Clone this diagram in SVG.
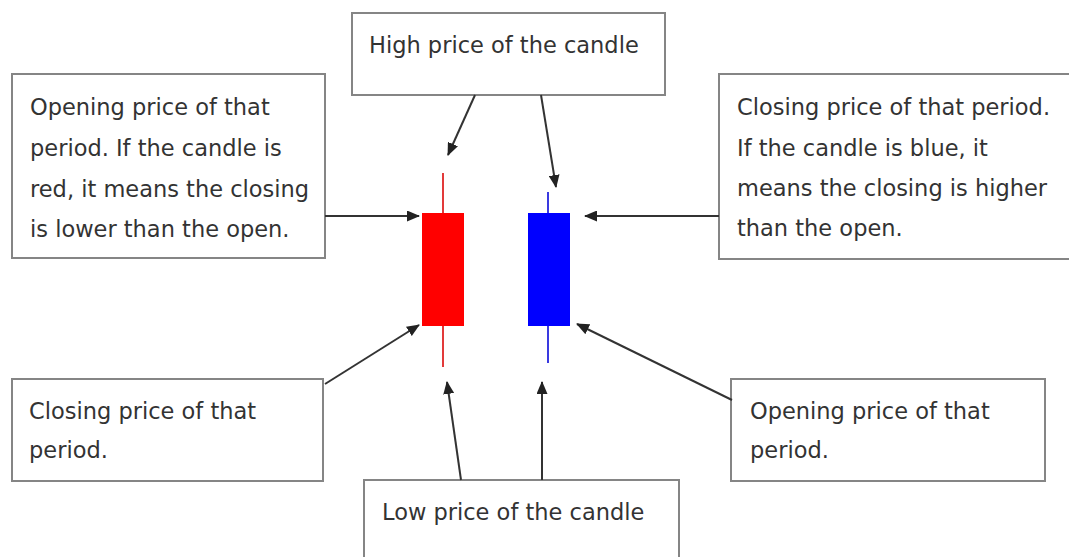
<svg xmlns="http://www.w3.org/2000/svg" width="1069" height="557" viewBox="0 0 1069 557">
<style>
.box{fill:#fff;stroke:#858585;stroke-width:2}
.t{font-family:"DejaVu Sans",Verdana,sans-serif;font-size:22.5px;fill:#333}
.c{stroke:#333;stroke-width:2;fill:none;marker-end:url(#ah)}
</style>
<defs>
<marker id="ah" viewBox="0 0 13 11" refX="12" refY="5.5" markerWidth="13" markerHeight="11" markerUnits="userSpaceOnUse" orient="auto">
<path d="M0,0 L13,5.5 L0,11 Z" fill="#222"/>
</marker>
</defs>
<rect width="1069" height="557" fill="#fff"/>
<g id="candles">
<line x1="443" y1="173" x2="443" y2="367" stroke="#e23a3a" stroke-width="2"/>
<rect x="422" y="213" width="42" height="113" fill="#f00"/>
<line x1="548" y1="192" x2="548" y2="363" stroke="#3a3ae0" stroke-width="2"/>
<rect x="528" y="213" width="42" height="113" fill="#00f"/>
</g>
<g id="high">
<rect class="box" x="352" y="13" width="313" height="82"/>
<text class="t" x="369" y="53">High price of the candle</text>
</g>
<g id="open-red">
<rect class="box" x="12" y="74" width="313" height="184"/>
<text class="t" x="30" y="115">Opening price of that</text>
<text class="t" x="30" y="156">period. If the candle is</text>
<text class="t" x="30" y="197">red, it means the closing</text>
<text class="t" x="30" y="237">is lower than the open.</text>
</g>
<g id="close-blue">
<rect class="box" x="719" y="74" width="360" height="185"/>
<text class="t" x="737" y="115">Closing price of that period.</text>
<text class="t" x="737" y="156">If the candle is blue, it</text>
<text class="t" x="737" y="196">means the closing is higher</text>
<text class="t" x="737" y="236">than the open.</text>
</g>
<g id="close-red">
<rect class="box" x="12" y="379" width="311" height="102"/>
<text class="t" x="29" y="419">Closing price of that</text>
<text class="t" x="29" y="458">period.</text>
</g>
<g id="open-blue">
<rect class="box" x="731" y="379" width="314" height="102"/>
<text class="t" x="750" y="419">Opening price of that</text>
<text class="t" x="750" y="458">period.</text>
</g>
<g id="low">
<rect class="box" x="364" y="480" width="315" height="90"/>
<text class="t" x="382" y="520">Low price of the candle</text>
</g>
<g id="connectors">
<line class="c" x1="475" y1="95" x2="448" y2="155"/>
<line class="c" x1="541" y1="95" x2="556" y2="187"/>
<line class="c" x1="325" y1="216" x2="419" y2="216"/>
<line class="c" x1="719" y1="216" x2="585" y2="216"/>
<line class="c" x1="325" y1="384" x2="419" y2="325"/>
<line class="c" x1="732" y1="400" x2="577" y2="324"/>
<line class="c" x1="461" y1="480" x2="447" y2="382"/>
<line class="c" x1="542" y1="480" x2="542" y2="382"/>
</g>
</svg>
